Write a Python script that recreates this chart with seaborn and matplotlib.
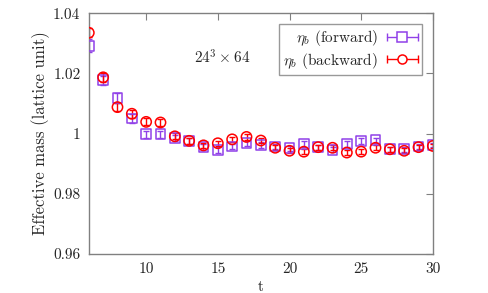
import numpy as np
import pandas as pd
import seaborn as sns
import matplotlib
matplotlib.use("Agg")
import matplotlib.pyplot as plt
from matplotlib.lines import Line2D
from matplotlib.legend_handler import HandlerBase

t = [6, 7, 8, 9, 10, 11, 12, 13, 14, 15, 16, 17, 18, 19, 20, 21, 22, 23, 24, 25, 26, 27, 28, 29, 30]
fwd = [1.0292, 1.0177, 1.0118, 1.0050, 0.9998, 0.9998, 0.9985, 0.9976, 0.9955, 0.9946, 0.9957,
       0.9968, 0.9962, 0.9957, 0.9951, 0.9966, 0.9955, 0.9946, 0.9965, 0.9975, 0.9978, 0.9948,
       0.9948, 0.9957, 0.9962]
fwd_err = [0.0022, 0.0016, 0.0016, 0.0014, 0.0012, 0.0012, 0.0010, 0.0009, 0.0009, 0.0009, 0.0009,
           0.0009, 0.0009, 0.0008, 0.0008, 0.0009, 0.0008, 0.0008, 0.0009, 0.0009, 0.0009, 0.0008,
           0.0008, 0.0008, 0.0008]
bwd = [1.0335, 1.0187, 1.0088, 1.0066, 1.0039, 1.0037, 0.9991, 0.9976, 0.9961, 0.9968, 0.9981,
       0.9989, 0.9977, 0.9953, 0.9943, 0.9940, 0.9955, 0.9953, 0.9937, 0.9940, 0.9953, 0.9948,
       0.9943, 0.9955, 0.9959]
bwd_err = [0.0015, 0.0015, 0.0014, 0.0013, 0.0012, 0.0012, 0.0010, 0.0009, 0.0008, 0.0008, 0.0009,
           0.0009, 0.0008, 0.0008, 0.0008, 0.0008, 0.0008, 0.0008, 0.0008, 0.0008, 0.0008, 0.0008,
           0.0008, 0.0008, 0.0008]
xticks = [10, 15, 20, 25, 30]
yticks = [0.96, 0.98, 1.0, 1.02, 1.04]
ytick_labels = ["0.96", "0.98", "1", "1.02", "1.04"]
labels = [r"$\eta_b$ (forward)", r"$\eta_b$ (backward)"]

sns.set_style("white")
plt.rcParams["font.family"] = ["cmr10", "DejaVu Serif"]
plt.rcParams["mathtext.fontset"] = "cm"
plt.rcParams["axes.unicode_minus"] = False
plt.rcParams["axes.formatter.use_mathtext"] = True

purple = "#9040e8"
red = "#ff0000"
gray = "#808080"
fs = 11

fig = plt.figure(figsize=(4.88, 2.93), dpi=100)
ax = fig.add_axes([0.182, 0.133, 0.705, 0.822])

df_f = pd.DataFrame({"t": t, "m": fwd})
df_b = pd.DataFrame({"t": t, "m": bwd})

ax.errorbar(t, fwd, yerr=fwd_err, fmt="none", ecolor=purple, elinewidth=1.0, capsize=2.5, capthick=1.0)
ax.errorbar(t, bwd, yerr=bwd_err, fmt="none", ecolor=red, elinewidth=1.0, capsize=2.5, capthick=1.0)
sns.scatterplot(data=df_f, x="t", y="m", ax=ax, marker="s", s=50, facecolor="none",
                edgecolor=purple, linewidth=1.1, zorder=3)
sns.scatterplot(data=df_b, x="t", y="m", ax=ax, marker="o", s=55, facecolor="none",
                edgecolor=red, linewidth=1.1, zorder=4)

ax.set_xlim(6, 30)
ax.set_ylim(0.96, 1.04)
ax.set_xticks(xticks)
ax.set_xticklabels([str(v) for v in xticks])
ax.set_yticks(yticks)
ax.set_yticklabels(ytick_labels)
ax.tick_params(direction="in", length=5, width=0.8, color=gray, labelsize=fs,
               top=True, right=True, pad=6)
for s in ax.spines.values():
    s.set_color(gray)
    s.set_linewidth(1.0)
ax.set_xlabel("t", fontsize=fs, labelpad=3)
ax.set_ylabel("Effective mass (lattice unit)", fontsize=12, labelpad=2)

ax.text(15.3, 1.0252, r"$24^3 \times 64$", fontsize=11, ha="center", va="center")


class HandlerEB(HandlerBase):
    def create_artists(self, legend, orig_handle, xdescent, ydescent, width, height, fontsize, trans):
        c = orig_handle.get_color()
        m = orig_handle.get_marker()
        x0 = -xdescent
        x1 = x0 + width
        ym = -ydescent + height / 2
        line = Line2D([x0, x1], [ym, ym], color=c, lw=1.0)
        caps = Line2D([x0, x1], [ym, ym], ls="none", marker="|", ms=6, mew=1.0, color=c)
        mk = Line2D([(x0 + x1) / 2], [ym], ls="none", marker=m, ms=6.5, mfc="white", mec=c, mew=1.1)
        for a in (line, caps, mk):
            a.set_transform(trans)
        return [line, caps, mk]


h1 = Line2D([], [], color=purple, marker="s")
h2 = Line2D([], [], color=red, marker="o")
leg = ax.legend([h1, h2], labels, loc="upper right", markerfirst=False, fontsize=fs,
                handler_map={Line2D: HandlerEB()}, handlelength=2.0, frameon=True,
                fancybox=False, borderaxespad=0.7, labelspacing=0.15, handletextpad=0.6,
                borderpad=0.3)
leg.get_frame().set_edgecolor(gray)
leg.get_frame().set_linewidth(1.0)
for txt in leg.get_texts():
    txt.set_ha("right")

fig.savefig("out.png", dpi=100)
